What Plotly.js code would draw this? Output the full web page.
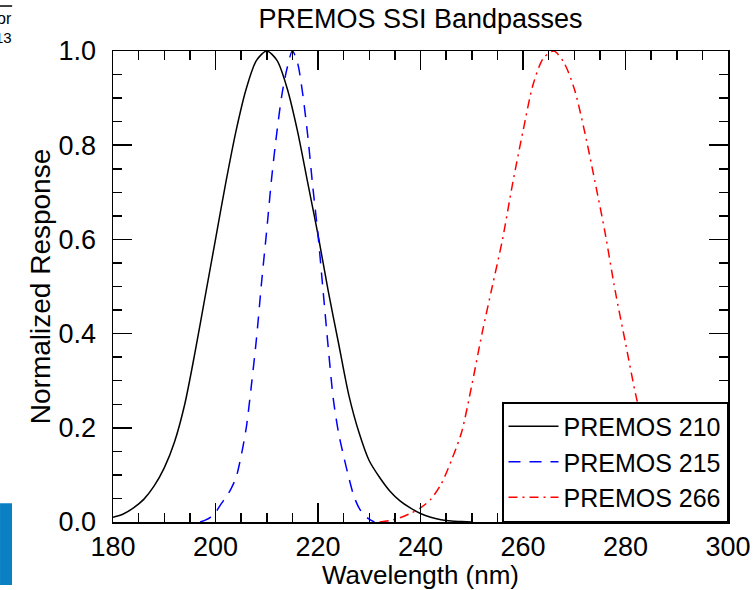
<!DOCTYPE html>
<html>
<head>
<meta charset="utf-8">
<script src="https://cdn.plot.ly/plotly-3.0.1.min.js"></script>
<style>html,body{margin:0;padding:0;background:#fff;}#chart{width:755px;height:590px;}</style>
</head>
<body>
<div id="chart"></div>
<script>
// Data
const wl210 = [180,182,184,186,188,190,192,194,196,198,200,202,204,206,208,210,212,214,216,218,220,222,224,226,228,230,232,234,236,238,240,242,244,246,248,250];
const resp210 = [0.01,0.017,0.03,0.048,0.076,0.115,0.17,0.25,0.36,0.48,0.6,0.72,0.83,0.92,0.98,1.0,0.98,0.92,0.83,0.72,0.61,0.49,0.38,0.27,0.19,0.13,0.095,0.066,0.045,0.03,0.018,0.01,0.005,0.002,0.001,0.0];

const wl215 = [197,198,199,200,201,202,203,204,205,206,207,208,209,210,211,212,213,214,215,216,217,218,219,220,221,222,223,224,225,226,227,228,229,230,231];
const resp215 = [0.0,0.004,0.01,0.02,0.037,0.052,0.07,0.094,0.14,0.2,0.29,0.39,0.51,0.62,0.735,0.83,0.91,0.965,1.0,0.975,0.91,0.82,0.71,0.61,0.49,0.37,0.26,0.19,0.14,0.095,0.055,0.03,0.015,0.006,0.0];

const wl266 = [232,234,236,238,240,242,244,246,248,250,252,254,256,258,260,262,264,266,268,270,272,274,276,278,280,282,284,286,288,290,292,294,296,298,300];
const resp266 = [0.0,0.003,0.009,0.018,0.03,0.048,0.08,0.13,0.19,0.29,0.4,0.5,0.6,0.72,0.83,0.93,0.985,1.0,0.975,0.92,0.83,0.725,0.615,0.49,0.38,0.27,0.18,0.115,0.07,0.04,0.022,0.012,0.006,0.003,0.001];

const names = ["PREMOS 210","PREMOS 215","PREMOS 266"];
const titleText = "PREMOS SSI Bandpasses";
const xTitle = "Wavelength (nm)";
const yTitle = "Normalized Response";

const FONT = "Liberation Sans, Arial, Helvetica, sans-serif";

const traces = [
  {x: wl210, y: resp210, name: names[0], mode: "lines", line: {color: "#000000", width: 1.5, shape: "spline", smoothing: 0.8}},
  {x: wl215, y: resp215, name: names[1], mode: "lines", line: {color: "#0000ff", width: 1.5, dash: "12px,9px", shape: "spline", smoothing: 0.8}},
  {x: wl266, y: resp266, name: names[2], mode: "lines", line: {color: "#ff0000", width: 1.5, dash: "9px,5px,2px,5px", shape: "spline", smoothing: 0.8}}
];

const axisCommon = {
  showline: true, linecolor: "#000", linewidth: 1.5, mirror: "allticks",
  ticks: "inside", ticklen: 19, tickwidth: 1.5, tickcolor: "#000",
  showgrid: false, zeroline: false,
  tickfont: {family: FONT, size: 27, color: "#000"}
};

const layout = {
  width: 755, height: 590,
  margin: {l: 113, r: 27, t: 51, b: 68},
  paper_bgcolor: "#fff", plot_bgcolor: "#fff",
  font: {family: FONT, color: "#000"},
  title: {text: titleText, font: {family: FONT, size: 27, color: "#000"}, x: 0.5, xref: "paper", xanchor: "center", y: 0.968, yref: "container", yanchor: "middle"},
  xaxis: Object.assign({}, axisCommon, {
    range: [180, 300], tickmode: "linear", tick0: 180, dtick: 20,
    ticklabelstandoff: 0,
    minor: {dtick: 5, ticks: "inside", ticklen: 9, tickwidth: 1.5, tickcolor: "#000", showgrid: false},
    title: {text: xTitle, font: {family: FONT, size: 26, color: "#000"}, standoff: 2}
  }),
  yaxis: Object.assign({}, axisCommon, {
    range: [0, 1], tickmode: "linear", tick0: 0, dtick: 0.2, tickformat: ".1f",
    ticklabelstandoff: 10,
    minor: {dtick: 0.05, ticks: "inside", ticklen: 9, tickwidth: 1.5, tickcolor: "#000", showgrid: false},
    title: {text: yTitle, font: {family: FONT, size: 28, color: "#000"}, standoff: 0}
  }),
  showlegend: true,
  legend: {
    x: 1, xanchor: "right", y: 0, yanchor: "bottom",
    bgcolor: "#fff", bordercolor: "#000", borderwidth: 1.5,
    font: {family: FONT, size: 25, color: "#000"},
    tracegroupgap: 0, itemwidth: 50
  },
  shapes: [
    {type: "rect", xref: "paper", yref: "paper", x0: -0.1837, x1: -0.1642, y0: -0.134, y1: 0.040, fillcolor: "#0a80c3", line: {width: 0}, layer: "above"},
    {type: "line", xref: "paper", yref: "paper", x0: -0.1837, x1: -0.164, y0: 1.0955, y1: 1.0955, line: {color: "#000", width: 1.5}}
  ],
  annotations: [
    {text: "or", xref: "paper", yref: "paper", x: -0.1615, y: 1.068, xanchor: "right", yanchor: "middle", showarrow: false, font: {family: FONT, size: 16, color: "#000"}},
    {text: "13", xref: "paper", yref: "paper", x: -0.1615, y: 1.028, xanchor: "right", yanchor: "middle", showarrow: false, font: {family: FONT, size: 15, color: "#000"}}
  ]
};

Plotly.newPlot("chart", traces, layout, {staticPlot: true, displayModeBar: false});
</script>
</body>
</html>
